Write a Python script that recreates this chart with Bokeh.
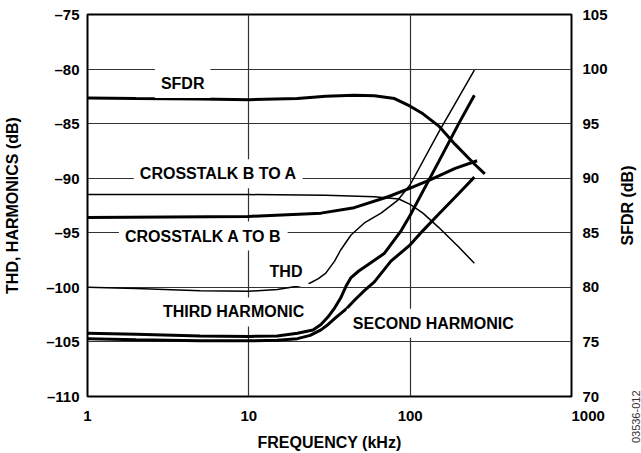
import math
from bokeh.plotting import figure
from bokeh.layouts import row
from bokeh.models import Range1d, LinearAxis, FixedTicker, Label
from bokeh.embed import file_html
from bokeh.resources import INLINE

# ---------------- data ----------------
sfdr_f = [1, 2, 5, 10, 20, 30, 45, 60, 80, 100, 120, 150, 190, 250, 290]
sfdr_db = [97.35, 97.3, 97.25, 97.2, 97.3, 97.5, 97.6, 97.55, 97.3, 96.6, 95.9, 94.8, 93.1, 91.3, 90.4]

ctba_f = [1, 10, 30, 60, 85, 100, 120, 150, 200, 250]
ctba_db = [-91.5, -91.5, -91.55, -91.7, -91.9, -92.4, -93.2, -94.5, -96.3, -97.8]

ctab_f = [1, 10, 28, 45, 73, 100, 135, 190, 260]
ctab_db = [-93.6, -93.5, -93.2, -92.7, -91.7, -90.9, -90.1, -89.1, -88.4]

thd_f = [1, 2, 5, 10, 15, 20, 24, 27, 30, 34, 37, 43, 52, 66, 84, 100, 150, 200, 250]
thd_db = [-100.0, -100.1, -100.3, -100.35, -100.2, -99.9, -99.6, -99.2, -98.7, -97.6,
          -96.6, -95.2, -94.1, -93.2, -92.0, -90.6, -85.8, -82.6, -80.1]

third_f = [1, 2, 5, 10, 15, 20, 25, 28, 31, 34, 37, 40, 43, 48, 55, 69, 88, 100, 150, 200, 250]
third_db = [-104.2, -104.3, -104.45, -104.5, -104.45, -104.2, -103.9, -103.4, -102.7, -101.9,
            -101.0, -99.9, -99.1, -98.5, -97.9, -96.9, -94.8, -93.4, -88.5, -85.0, -82.4]

second_f = [1, 2, 5, 10, 15, 20, 24, 28, 31, 35, 40, 45, 52, 60, 76, 100, 120, 150, 200, 250]
second_db = [-104.7, -104.8, -104.9, -104.9, -104.85, -104.7, -104.4, -103.9, -103.4, -102.7,
             -102.0, -101.2, -100.3, -99.5, -97.6, -96.1, -94.8, -93.3, -91.4, -89.9]

x_ticks = [1, 10, 100, 1000]
x_tick_labels = ["1", "10", "100", "\u2007\u2007\u2007\u20071000"]
y_ticks = [-110, -105, -100, -95, -90, -85, -80, -75]
y_tick_labels = ["\u2013110", "\u2013105", "\u2013100", "\u201395", "\u201390", "\u201385", "\u201380", "\u201375"]
sfdr_ticks = [70, 75, 80, 85, 90, 95, 100, 105]
sfdr_tick_labels = ["70", "75", "80", "85", "90", "95", "100", "105"]

curve_labels = ["SFDR", "CROSSTALK B TO A", "CROSSTALK A TO B", "THD", "THIRD HARMONIC", "SECOND HARMONIC"]
curve_label_x = [3.89, 6.46, 5.22, 17.0, 8.04, 139.0]
curve_label_y = [-81.33, -89.6, -95.3, -98.55, -102.25, -103.3]

sfdr_axis_title = "SFDR (dB)"
figure_code = "03536-012"

FONT = "Liberation Sans"


def bare_axis(ax):
    ax.axis_line_color = None
    ax.major_tick_line_color = None
    ax.minor_tick_line_color = None
    ax.major_tick_out = 0
    ax.major_tick_in = 0
    ax.minor_tick_out = 0
    ax.minor_tick_in = 0


# ---------------- main figure ----------------
p = figure(width=611, height=453, x_axis_type="log",
           x_range=Range1d(1, 1000), y_range=Range1d(-110, -75),
           output_backend="svg", toolbar_location=None,
           min_border_left=87, min_border_right=40, min_border_top=14, min_border_bottom=57)
p.extra_y_ranges = {"sfdr": Range1d(70, 105)}

p.outline_line_color = "black"
p.outline_line_width = 2
p.background_fill_color = "white"
p.border_fill_color = "white"

xa = p.xaxis[0]
xa.ticker = FixedTicker(ticks=x_ticks)
xa.major_label_overrides = {t: l for t, l in zip(x_ticks, x_tick_labels)}
xa.axis_label = "FREQUENCY (kHz)"

ya = p.yaxis[0]
ya.ticker = FixedTicker(ticks=y_ticks)
ya.major_label_overrides = {t: l for t, l in zip(y_ticks, y_tick_labels)}
ya.axis_label = "THD, HARMONICS (dB)"

ra = LinearAxis(y_range_name="sfdr", ticker=FixedTicker(ticks=sfdr_ticks))
ra.major_label_overrides = {t: l for t, l in zip(sfdr_ticks, sfdr_tick_labels)}
p.add_layout(ra, "right")

for ax in [xa, ya, ra]:
    bare_axis(ax)
    ax.major_label_text_font = FONT
    ax.major_label_text_font_style = "bold"
    ax.major_label_text_font_size = "15px"
    ax.major_label_text_color = "black"
    ax.axis_label_text_font = FONT
    ax.axis_label_text_font_style = "bold"
    ax.axis_label_text_font_size = "16px"
    ax.axis_label_text_color = "black"

xa.major_label_standoff = 10
xa.axis_label_standoff = 7
ya.major_label_standoff = 8
ya.axis_label_standoff = 22
ra.major_label_standoff = 11

p.xgrid.ticker = FixedTicker(ticks=x_ticks)
p.ygrid.ticker = FixedTicker(ticks=y_ticks)
for g in [p.xgrid[0], p.ygrid[0]]:
    g.grid_line_color = "#333333"
    g.grid_line_width = 1.2

# ---------------- curves ----------------
p.line(sfdr_f, sfdr_db, y_range_name="sfdr", line_color="black", line_width=3)
p.line(ctba_f, ctba_db, line_color="black", line_width=1.5)
p.line(ctab_f, ctab_db, line_color="black", line_width=3)
p.line(thd_f, thd_db, line_color="black", line_width=1.5)
p.line(third_f, third_db, line_color="black", line_width=3)
p.line(second_f, second_db, line_color="black", line_width=3)

# ---------------- curve labels ----------------
for txt, lx, ly in zip(curve_labels, curve_label_x, curve_label_y):
    p.add_layout(Label(x=lx, y=ly, text=txt, text_align="center", text_baseline="middle",
                       text_font=FONT, text_font_style="bold", text_font_size="16px",
                       text_color="black", background_fill_color="white", padding=6))

# ---------------- right strip: SFDR axis title and the figure code ----------------
p2 = figure(width=30, height=453, x_range=Range1d(0, 1), y_range=Range1d(0, 1),
            toolbar_location=None, output_backend="svg",
            min_border_left=22, min_border_right=0, min_border_top=14, min_border_bottom=57)
p2.outline_line_color = None
p2.grid.visible = False
p2.background_fill_color = "white"
p2.border_fill_color = "white"

# SFDR (dB) title, written as the single label of a tickless left axis
ta = p2.yaxis[0]
bare_axis(ta)
ta.ticker = FixedTicker(ticks=[0.5])
ta.major_label_overrides = {0.5: sfdr_axis_title}
ta.major_label_orientation = "vertical"
ta.major_label_standoff = -2
ta.major_label_text_font = FONT
ta.major_label_text_font_style = "bold"
ta.major_label_text_font_size = "16px"
ta.major_label_text_color = "black"

# figure code, written as the single label of a tickless bottom axis
ca = p2.xaxis[0]
bare_axis(ca)
ca.ticker = FixedTicker(ticks=[0.3])
ca.major_label_overrides = {0.3: figure_code}
ca.major_label_orientation = math.pi / 2
ca.major_label_standoff = -6
ca.major_label_text_font = FONT
ca.major_label_text_font_style = "normal"
ca.major_label_text_font_size = "11px"
ca.major_label_text_color = "#333333"

layout = row(p, p2, spacing=0)
open("out.html", "w").write(file_html(layout, INLINE))
